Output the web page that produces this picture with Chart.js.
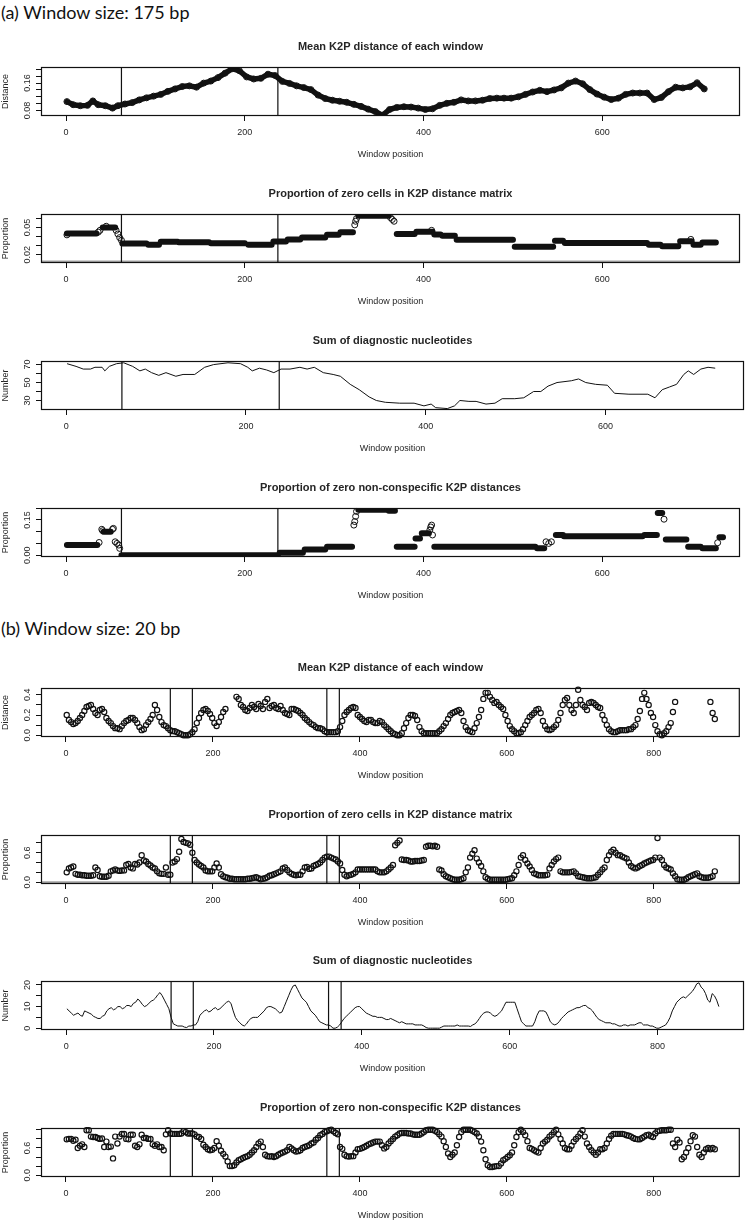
<!DOCTYPE html>
<html lang="en">
<head>
<meta charset="utf-8">
<title>Sliding window K2P plots</title>
<script src="https://cdn.jsdelivr.net/npm/chart.js@4.4.1/dist/chart.umd.min.js"></script>
<style>
  html, body { margin: 0; padding: 0; background: #fff; }
  body { position: relative; width: 745px; height: 1221px; overflow: hidden; }
  .heading { position: absolute; left: 1px; font-family: Lato, "Open Sans", sans-serif; font-size: 18px;
             line-height: 22px; color: #111; white-space: nowrap; }
  .panel { position: absolute; left: 0; width: 745px; height: 134px; }
</style>
</head>
<body>
<div class="heading" style="top:1px">(a) Window size: 175 bp</div>
<div class="heading" style="top:617px">(b) Window size: 20 bp</div>
<script>
const FONT = '"Liberation Sans", Arial, Helvetica, sans-serif';
const INK = '#111';
const TEXT = '#262626';

// ---- shared axis settings ----
const XLIM_A = [-28, 754];
const XLIM_B = [-34, 917];
const X_TICKS_A = [0, 200, 400, 600];
const X_TICKS_B = [0, 200, 400, 600, 800];
const WINDOWS_A = [[62, 237]];
const WINDOWS_B = [[142, 172], [355, 372]];

// ---- (a) 175 bp: mean K2P distance ----
const k2pPosA = [1, 8, 16, 24, 30, 36, 44, 52, 58, 66, 74, 82, 90, 98, 106, 114, 122, 130, 138, 146,
  154, 162, 170, 178, 186, 194, 202, 210, 218, 226, 234, 242, 250, 258, 266, 274, 282, 290, 298, 306,
  314, 322, 330, 338, 346, 354, 362, 370, 378, 386, 394, 402, 410, 418, 426, 434, 442, 450, 458, 466,
  474, 482, 490, 498, 506, 514, 522, 530, 538, 546, 554, 562, 570, 578, 586, 594, 602, 610, 618, 626,
  634, 642, 650, 658, 666, 674, 682, 690, 698, 706, 714];
const k2pDistA = [0.106, 0.097, 0.094, 0.095, 0.108, 0.097, 0.094, 0.087, 0.094, 0.099,
  0.103, 0.111, 0.117, 0.122, 0.127, 0.136, 0.143, 0.150, 0.152, 0.148,
  0.160, 0.166, 0.176, 0.189, 0.202, 0.196, 0.178, 0.172, 0.174, 0.186,
  0.182, 0.165, 0.159, 0.152, 0.147, 0.141, 0.125, 0.115, 0.110, 0.107,
  0.104, 0.098, 0.092, 0.084, 0.077, 0.066, 0.083, 0.089, 0.091, 0.090,
  0.087, 0.083, 0.085, 0.095, 0.101, 0.104, 0.111, 0.108, 0.108, 0.110,
  0.115, 0.116, 0.116, 0.116, 0.120, 0.127, 0.134, 0.139, 0.135, 0.140,
  0.146, 0.160, 0.166, 0.158, 0.141, 0.128, 0.119, 0.112, 0.116, 0.127,
  0.131, 0.131, 0.131, 0.112, 0.118, 0.135, 0.148, 0.146, 0.149, 0.161, 0.143];
const yTicksA1 = [0.08, 0.10, 0.12, 0.14, 0.16, 0.18, 0.20];
const yLabelsA1 = ['0.08', '0.16'];

// ---- (a) proportion of zero cells: plateaus + transition points ----
const zeroStartA = [1, 41, 63, 92, 106, 126, 162, 204, 232, 248, 264, 292, 307, 327, 370, 392, 412, 421, 437, 502, 547, 558, 652, 667, 687, 702, 712];
const zeroEndA = [34, 55, 90, 104, 125, 160, 200, 230, 246, 262, 290, 305, 321, 361, 390, 410, 419, 435, 500, 545, 556, 650, 665, 685, 700, 710, 727];
const zeroLevelA = [0.0435, 0.050, 0.0325, 0.031, 0.0345, 0.0338, 0.0327, 0.031, 0.0348, 0.037, 0.039, 0.042, 0.045, 0.063,
  0.043, 0.0455, 0.0425, 0.041, 0.0365, 0.029, 0.0355, 0.033, 0.031, 0.0295, 0.035, 0.031, 0.0335];
const zeroJumpXA = [1, 36, 38, 45, 56, 58, 60, 62, 323, 324, 325, 363, 365, 367, 409, 699];
const zeroJumpYA = [0.042, 0.045, 0.047, 0.0515, 0.047, 0.043, 0.039, 0.036, 0.053, 0.057, 0.060, 0.061, 0.059, 0.057, 0.047, 0.037];
const yTicksA2 = [0.02, 0.03, 0.04, 0.05, 0.06];
const yLabelsA2 = ['0.02', '0.05'];

// ---- (a) sum of diagnostic nucleotides ----
const diagPosA = [1, 11, 19, 27, 32, 40, 43, 48, 56, 64, 74, 82, 88, 95, 103, 111, 122, 130, 143, 154,
  164, 180, 194, 202, 207, 215, 223, 231, 239, 249, 260, 268, 276, 286, 297, 305, 316, 326, 337, 345,
  355, 371, 387, 398, 406, 411, 424, 432, 438, 448, 456, 467, 477, 485, 499, 509, 520, 528, 536, 546,
  562, 570, 578, 589, 602, 610, 626, 647, 655, 663, 671, 679, 687, 692, 698, 706, 714, 722];
const diagSumA = [71, 68, 65, 65, 67, 67, 63, 68, 71, 72, 68, 63, 65, 61, 58, 61, 57, 59, 59, 67,
  70, 72, 71, 67, 63, 66, 64, 61, 65, 65, 67, 65, 67, 61, 59, 57, 48, 42, 34, 30,
  28, 27, 27, 24, 26, 22, 21, 24, 30, 29, 29, 26, 27, 32, 32, 33, 40, 40, 46, 50,
  52, 54, 50, 48, 47, 38, 37, 37, 33, 42, 45, 48, 59, 63, 59, 65, 67, 66];
const yTicksA3 = [30, 40, 50, 60, 70];
const yLabelsA3 = ['30', '50', '70'];

// ---- (a) proportion of zero non-conspecific distances ----
const nonconStartA = [1, 42, 62, 239, 267, 292, 327, 361, 370, 391, 398, 412, 527, 548, 557, 647, 662, 671, 696, 712, 731];
const nonconEndA = [35, 50, 237, 265, 290, 320, 360, 368, 390, 396, 406, 525, 535, 556, 645, 661, 667, 694, 710, 727, 735];
const nonconLevelA = [0.043, 0.100, 0.0, 0.010, 0.024, 0.036, 0.193, 0.189, 0.036, 0.071, 0.093, 0.036, 0.029, 0.086, 0.081, 0.086, 0.179, 0.067, 0.036, 0.029, 0.076];
const nonconJumpXA = [37, 40, 41, 52, 53, 55, 57, 59, 60, 322, 323, 324, 325, 407, 408, 409, 410, 537, 540, 543, 669, 729];
const nonconJumpYA = [0.054, 0.110, 0.104, 0.110, 0.114, 0.057, 0.050, 0.043, 0.029, 0.128, 0.143, 0.165, 0.186, 0.107, 0.120, 0.128, 0.086, 0.057, 0.050, 0.057, 0.153, 0.053];
const yTicksA4 = [0, 0.05, 0.10, 0.15, 0.20];
const yLabelsA4 = ['0.00', '0.15'];

// ---- (b) 20 bp: two interleaved sets of sampled window positions ----
const posB = [1, 7, 13, 19, 25, 31, 37, 43, 49, 55,
  61, 67, 73, 79, 85, 91, 97, 103, 109, 115,
  121, 127, 133, 139, 145, 151, 157, 163, 169, 175,
  181, 187, 193, 199, 205, 211, 217, 223, 229, 235,
  241, 247, 253, 259, 265, 271, 277, 283, 289, 295,
  301, 307, 313, 319, 325, 331, 337, 343, 349, 355,
  361, 367, 373, 379, 385, 391, 397, 403, 409, 415,
  421, 427, 433, 439, 445, 451, 457, 463, 469, 475,
  481, 487, 493, 499, 505, 511, 517, 523, 529, 535,
  541, 547, 553, 559, 565, 571, 577, 583, 589, 595,
  601, 607, 613, 619, 625, 631, 637, 643, 649, 655,
  661, 667, 673, 679, 685, 691, 697, 703, 709, 715,
  721, 727, 733, 739, 745, 751, 757, 763, 769, 775,
  781, 787, 793, 799, 805, 811, 817, 823, 829, 835,
  841, 847, 853, 859, 865, 871, 877, 883];
const posB2 = [4, 10, 16, 22, 28, 34, 40, 46, 52, 58,
  64, 70, 76, 82, 88, 94, 100, 106, 112, 118,
  124, 130, 136, 142, 148, 154, 160, 166, 172, 178,
  184, 190, 196, 202, 208, 214, 220, 226, 232, 238,
  244, 250, 256, 262, 268, 274, 280, 286, 292, 298,
  304, 310, 316, 322, 328, 334, 340, 346, 352, 358,
  364, 370, 376, 382, 388, 394, 400, 406, 412, 418,
  424, 430, 436, 442, 448, 454, 460, 466, 472, 478,
  484, 490, 496, 502, 508, 514, 520, 526, 532, 538,
  544, 550, 556, 562, 568, 574, 580, 586, 592, 598,
  604, 610, 616, 622, 628, 634, 640, 646, 652, 658,
  664, 670, 676, 682, 688, 694, 700, 706, 712, 718,
  724, 730, 736, 742, 748, 754, 760, 766, 772, 778,
  784, 790, 796, 802, 808, 814, 820, 826, 832, 838,
  844, 850, 856, 862, 868, 874, 880];

const k2pDistB = [0.20, 0.13, 0.12, 0.17, 0.24, 0.29, 0.26, 0.20, 0.26, 0.17,
  0.12, 0.07, 0.06, 0.12, 0.15, 0.17, 0.12, 0.05, 0.10, 0.16,
  0.30, 0.18, 0.10, 0.07, 0.04, 0.03, 0.01, 0.00, 0.01, 0.06,
  0.17, 0.25, 0.24, 0.17, 0.09, 0.18, 0.26, null, null, 0.36,
  0.28, 0.24, 0.30, 0.26, 0.29, 0.33, 0.27, 0.30, 0.26, 0.25,
  0.21, 0.26, 0.25, 0.22, 0.17, 0.13, 0.10, 0.07, 0.06, 0.03,
  0.03, 0.03, 0.08, 0.20, 0.25, 0.28, 0.20, 0.16, 0.13, 0.15,
  0.12, 0.14, 0.10, 0.06, 0.02, 0.00, 0.02, 0.12, 0.20, 0.19,
  0.08, 0.02, 0.02, 0.02, 0.02, 0.06, 0.12, 0.20, 0.23, 0.25,
  0.14, 0.05, 0.03, 0.12, 0.25, 0.42, 0.38, 0.32, 0.30, 0.26,
  0.14, 0.06, 0.02, 0.03, 0.10, 0.18, 0.22, 0.26, 0.14, 0.06,
  0.06, 0.10, 0.22, 0.35, 0.30, 0.22, 0.45, 0.30, 0.25, 0.33,
  0.30, 0.27, 0.15, 0.06, 0.03, 0.04, 0.05, 0.05, 0.06, 0.10,
  0.24, 0.42, 0.30, 0.18, 0.04, 0.00, 0.04, 0.12, 0.33, null,
  null, null, null, null, null, null, 0.33, 0.16];
const k2pDistB2 = [0.15, 0.11, 0.14, 0.20, 0.28, 0.30, 0.22, 0.25, 0.23, 0.14,
  0.09, 0.07, 0.09, 0.14, 0.17, 0.15, 0.08, 0.06, 0.13, 0.20,
  0.25, 0.13, 0.09, 0.05, 0.04, 0.02, 0.00, 0.00, 0.03, 0.12,
  0.22, 0.26, 0.21, 0.12, 0.13, 0.23, null, null, 0.38, 0.30,
  0.25, 0.27, 0.28, 0.31, 0.26, 0.36, 0.29, 0.27, 0.29, 0.22,
  0.20, 0.26, 0.24, 0.20, 0.15, 0.11, 0.08, 0.07, 0.04, 0.03,
  0.03, 0.04, 0.14, 0.23, 0.27, 0.27, 0.18, 0.14, 0.15, 0.13,
  0.12, 0.13, 0.08, 0.04, 0.01, 0.00, 0.07, 0.17, 0.20, 0.15,
  0.04, 0.02, 0.02, 0.02, 0.04, 0.09, 0.16, 0.22, 0.24, 0.22,
  0.08, 0.04, 0.07, 0.18, 0.36, 0.42, 0.35, 0.33, 0.28, 0.20,
  0.09, 0.04, 0.02, 0.06, 0.14, 0.20, 0.25, 0.22, 0.09, 0.05,
  0.08, 0.15, 0.30, 0.37, 0.25, 0.30, 0.35, 0.28, 0.32, 0.32,
  0.28, 0.20, 0.10, 0.04, 0.03, 0.05, 0.05, 0.06, 0.08, 0.16,
  0.36, 0.36, 0.22, 0.10, 0.01, 0.02, 0.08, 0.23, null, null,
  null, null, null, null, null, null, 0.22];
const yTicksB1 = [0, 0.1, 0.2, 0.3, 0.4];
const yLabelsB1 = ['0.0', '0.2', '0.4'];

const zeroPropB = [0.20, 0.30, 0.17, 0.15, 0.14, 0.13, 0.14, 0.25, 0.11, 0.11,
  0.22, 0.26, 0.23, 0.24, 0.37, 0.28, 0.36, 0.55, 0.42, 0.34,
  0.28, 0.18, 0.17, 0.15, 0.40, 0.47, 0.88, 0.80, 0.76, 0.45,
  0.36, 0.30, 0.22, 0.22, 0.38, 0.16, 0.10, 0.07, 0.06, 0.06,
  0.06, 0.07, 0.08, 0.10, 0.06, 0.08, 0.13, 0.16, 0.20, 0.28,
  0.25, 0.17, 0.14, 0.15, 0.30, 0.27, 0.33, 0.37, 0.45, 0.52,
  0.50, 0.46, 0.38, 0.15, 0.14, 0.17, 0.26, 0.26, 0.26, 0.26,
  0.26, 0.20, 0.20, 0.26, 0.35, 0.80, 0.46, 0.45, 0.42, 0.43,
  0.43, 0.45, 0.74, 0.73, 0.72, 0.24, 0.12, 0.08, 0.05, 0.05,
  0.08, 0.30, 0.58, 0.48, 0.33, 0.10, 0.05, 0.05, 0.05, 0.05,
  0.06, 0.08, 0.22, 0.50, 0.45, 0.32, 0.18, 0.14, 0.14, 0.15,
  0.35, 0.47, 0.22, 0.20, 0.20, 0.22, 0.12, 0.10, 0.08, 0.08,
  0.10, 0.20, 0.30, 0.55, 0.66, 0.55, 0.52, 0.48, 0.33, 0.28,
  0.33, 0.38, 0.42, 0.45, 0.90, 0.45, 0.30, 0.26, 0.12, 0.05,
  0.05, 0.10, 0.14, 0.18, 0.10, 0.09, 0.10, 0.22];
const zeroPropB2 = [0.28, 0.32, 0.15, 0.14, 0.13, 0.13, 0.30, 0.12, 0.11, 0.13,
  0.24, 0.24, 0.24, 0.35, 0.30, 0.37, 0.40, 0.44, 0.37, 0.30,
  0.22, 0.17, 0.30, 0.15, 0.42, 0.62, 0.82, 0.79, 0.60, 0.40,
  0.33, 0.24, 0.22, 0.30, 0.30, 0.12, 0.09, 0.07, 0.06, 0.06,
  0.06, 0.07, 0.09, 0.08, 0.07, 0.10, 0.14, 0.18, 0.22, 0.30,
  0.20, 0.15, 0.15, 0.22, 0.31, 0.28, 0.35, 0.40, 0.50, 0.52,
  0.48, 0.42, 0.25, 0.12, 0.15, 0.20, 0.26, 0.26, 0.26, 0.26,
  0.22, 0.20, 0.22, 0.30, 0.75, 0.85, 0.45, 0.44, 0.42, 0.43,
  0.44, 0.72, 0.74, 0.74, 0.26, 0.16, 0.10, 0.06, 0.05, 0.06,
  0.20, 0.50, 0.65, 0.40, 0.22, 0.07, 0.05, 0.05, 0.05, 0.05,
  0.07, 0.14, 0.35, 0.55, 0.38, 0.25, 0.16, 0.14, 0.14, 0.28,
  0.42, 0.50, 0.20, 0.20, 0.21, 0.18, 0.11, 0.09, 0.08, 0.09,
  0.15, 0.26, 0.45, 0.62, 0.60, 0.55, 0.50, 0.40, 0.30, 0.30,
  0.35, 0.40, 0.44, 0.50, 0.50, 0.35, 0.28, 0.18, 0.06, 0.05,
  0.07, 0.12, 0.16, 0.12, 0.09, 0.09, 0.12];
const yTicksB2 = [0, 0.2, 0.4, 0.6, 0.8];
const yLabelsB2 = ['0.0', '0.6'];

const diagSumB = [9, 7, 6.5, 6, 8, 7, 5.5, 4.5, 5.5, 8,
  9.5, 9, 10, 9.5, 10.5, 11.5, 13.5, 11, 10.5, 12.5,
  14, 16.5, 13, 9, 2, 1, 1, 0.3, 1, 1.5,
  6, 8, 7.5, 9, 8.5, 10, 12, 11.5, 5, 2.5,
  1, 3.5, 5, 5, 7, 9.5, 10, 9, 7, 10,
  15, 19.5, 18, 14, 12, 8, 6, 3, 2, 1.5,
  0, 0.5, 3, 5.5, 7.5, 9.5, 10, 8, 6.5, 5.5,
  5, 5, 4, 4.5, 3.5, 2.5, 2.5, 2, 2, 1.5,
  1.5, 0.3, 0, 0, 0, 1, 1, 1, 1.5, 1,
  1, 0.8, 2, 4.5, 7, 7.5, 6, 6, 8, 12,
  12, 12, 6, 2, 1, 1, 6, 8, 7.5, 3,
  1.5, 3, 5.5, 7.5, 8.5, 9.5, 10, 10.5, 9, 6.5,
  4, 3, 2.5, 2, 1.5, 1, 1.5, 1.5, 1.5, 2.5,
  1.5, 1.5, 1, 0, 0.5, 1.5, 5, 10, 13, 14.5,
  15, 17, 20.5, 19, 16, 12, 15, 10];
const diagSumB2 = [8, 6, 7, 5.5, 7.5, 6.5, 5, 4.5, 6, 9,
  8.5, 10, 9, 10.5, 10, 12, 12.5, 10, 11.5, 13,
  15.5, 15, 11, 5, 1.5, 1, 0.5, 1, 1.5, 3,
  7, 8.5, 8, 9.5, 9, 11, 12.5, 8, 3.5, 1.5,
  2, 4.5, 5, 6, 8, 10, 9.5, 8, 7.5, 12.5,
  17.5, 20, 16, 13, 10, 7, 4.5, 2.5, 1.5, 1,
  0, 1.5, 4.5, 6.5, 8.5, 10, 9, 7, 6, 5.5,
  5, 4.5, 4, 4, 3, 3, 2, 2, 1.5, 1.5,
  1, 0, 0, 0, 0.5, 1, 1, 1, 1, 1,
  1, 1.5, 3, 6, 7.5, 7, 5.5, 7, 10, 12,
  12, 9, 3, 1, 1, 3, 8, 8, 5.5, 2,
  2, 4.5, 6.5, 8, 9, 9.5, 10.5, 9.5, 8, 5,
  3.5, 2.5, 2.5, 2, 1, 1.5, 1, 1.5, 2, 2.5,
  1.5, 1, 0.5, 0, 1, 3, 8, 12, 14, 14,
  16, 18.5, 21, 18, 13, 16, 13];
const yTicksB3 = [0, 5, 10, 15, 20];
const yLabelsB3 = ['0', '10', '20'];

const nonconPropB = [0.79, 0.80, 0.78, 0.65, 0.62, 0.99, 0.84, 0.82, 0.81, 0.74,
  0.63, 0.85, 0.85, 0.91, 0.79, 0.89, 0.62, 0.89, 0.82, 0.80,
  0.65, 0.62, 0.55, 0.99, 0.91, 0.91, 0.92, 0.95, 0.92, 0.90,
  0.84, 0.67, 0.57, 0.56, 0.75, 0.54, 0.41, 0.20, 0.22, 0.33,
  0.38, 0.42, 0.50, 0.62, 0.74, 0.45, 0.41, 0.40, 0.45, 0.50,
  0.55, 0.59, 0.52, 0.55, 0.62, 0.66, 0.72, 0.82, 0.91, 0.97,
  1.00, 0.93, 0.62, 0.45, 0.41, 0.42, 0.57, 0.60, 0.65, 0.70,
  0.74, 0.74, 0.59, 0.70, 0.80, 0.88, 0.93, 0.93, 0.92, 0.89,
  0.89, 0.95, 1.00, 1.00, 0.95, 0.85, 0.62, 0.40, 0.50, 0.84,
  1.00, 1.00, 0.98, 0.92, 0.74, 0.35, 0.18, 0.19, 0.20, 0.33,
  0.40, 0.50, 0.84, 1.00, 0.88, 0.60, 0.55, 0.50, 0.70, 0.78,
  0.89, 1.00, 0.80, 0.60, 0.57, 0.74, 0.85, 0.99, 0.70, 0.55,
  0.45, 0.57, 0.60, 0.80, 0.91, 0.91, 0.91, 0.88, 0.85, 0.80,
  0.79, 0.85, 0.89, 0.84, 0.97, 0.99, 0.99, 1.00, 0.62, 0.72,
  0.40, 0.60, 0.88, 0.62, 0.40, 0.57, 0.57, 0.57];
const nonconPropB2 = [0.80, 0.76, 0.60, 0.68, 0.99, 0.85, 0.84, 0.80, 0.62, 0.62,
  0.37, 0.70, 0.91, 0.80, 0.89, 0.65, 0.68, 0.82, 0.80, 0.68,
  0.68, 0.62, 0.90, 0.92, 0.91, 0.91, 0.97, 0.92, 0.92, 0.85,
  0.80, 0.62, 0.55, 0.60, 0.65, 0.47, 0.30, 0.20, 0.28, 0.35,
  0.40, 0.45, 0.55, 0.70, 0.62, 0.42, 0.42, 0.42, 0.48, 0.52,
  0.62, 0.55, 0.53, 0.60, 0.64, 0.70, 0.78, 0.88, 0.95, 0.99,
  0.97, 0.90, 0.58, 0.42, 0.42, 0.50, 0.58, 0.62, 0.68, 0.72,
  0.74, 0.66, 0.62, 0.75, 0.85, 0.92, 0.93, 0.92, 0.90, 0.89,
  0.92, 0.99, 1.00, 0.98, 0.90, 0.75, 0.48, 0.45, 0.66, 0.95,
  1.00, 1.00, 0.95, 0.85, 0.55, 0.22, 0.18, 0.20, 0.26, 0.36,
  0.44, 0.66, 0.95, 0.95, 0.75, 0.58, 0.52, 0.60, 0.74, 0.85,
  0.95, 0.90, 0.70, 0.57, 0.65, 0.80, 0.92, 0.85, 0.62, 0.50,
  0.50, 0.57, 0.70, 0.87, 0.91, 0.91, 0.90, 0.87, 0.82, 0.79,
  0.82, 0.88, 0.86, 0.92, 0.98, 0.99, 1.00, 0.70, 0.78, 0.35,
  0.50, 0.75, 0.85, 0.45, 0.50, 0.60, 0.60];
const yTicksB4 = [0, 0.2, 0.4, 0.6, 0.8, 1.0];
const yLabelsB4 = ['0.0', '0.6'];

// ---- dataset builders ----
function pairs(xs, ys) {
  return xs.map((x, i) => ({ x, y: ys[i] }));
}

function rings(points, r, lw) {
  return {
    data: points.filter(p => p.y !== null),
    showLine: false, pointRadius: r, pointBorderWidth: lw,
    pointBorderColor: INK, pointBackgroundColor: 'rgba(0,0,0,0)', clip: false
  };
}

// dense runs of overlapping circles look like a thick band
function band(xs, ys) {
  return {
    data: pairs(xs, ys), borderColor: INK, borderWidth: 5.5,
    borderJoinStyle: 'round', borderCapStyle: 'round',
    pointRadius: 3, pointBorderWidth: 1, pointBorderColor: INK,
    pointBackgroundColor: 'rgba(0,0,0,0)'
  };
}

function plateaus(starts, ends, levels) {
  const data = [];
  starts.forEach((s, i) => {
    data.push({ x: s, y: levels[i] }, { x: ends[i], y: levels[i] }, { x: ends[i], y: null });
  });
  return { data, borderColor: INK, borderWidth: 6, borderCapStyle: 'round', pointRadius: 0, spanGaps: false };
}

function trace(points) {
  return { data: points, borderColor: INK, borderWidth: 1, pointRadius: 0 };
}

function merged(xs1, ys1, xs2, ys2) {
  return pairs(xs1, ys1).concat(pairs(xs2, ys2)).sort((p, q) => p.x - q.x);
}

function windowBoxes(spans, ylim) {
  const data = [];
  spans.forEach(([a, b]) => {
    data.push({ x: a, y: ylim[0] }, { x: a, y: ylim[1] }, { x: b, y: ylim[1] },
              { x: b, y: ylim[0] }, { x: a, y: ylim[0] }, { x: a, y: null });
  });
  return { data, borderColor: INK, borderWidth: 1.2, pointRadius: 0, spanGaps: false };
}

function refLine(y, xlim) {
  return { data: [{ x: xlim[0], y }, { x: xlim[1], y }], borderColor: '#a3a3a3', borderWidth: 2, pointRadius: 0 };
}

// ---- panels ----
const YLIM = {
  a1: [0.064, 0.207], a2: [0.011, 0.065], a3: [19.4, 74], a4: [-0.0077, 0.2007],
  b1: [-0.018, 0.468], b2: [-0.037, 0.96], b3: [-0.84, 21.84], b4: [-0.04, 1.04]
};

const panels = [
  { boxTop: 67, title: 'Mean K2P distance of each window', ylab: 'Distance',
    xlim: XLIM_A, xTicks: X_TICKS_A, ylim: YLIM.a1, yTicks: yTicksA1, yLabels: yLabelsA1,
    datasets: [band(k2pPosA, k2pDistA), windowBoxes(WINDOWS_A, YLIM.a1)] },
  { boxTop: 214, title: 'Proportion of zero cells in K2P distance matrix', ylab: 'Proportion',
    xlim: XLIM_A, xTicks: X_TICKS_A, ylim: YLIM.a2, yTicks: yTicksA2, yLabels: yLabelsA2,
    datasets: [plateaus(zeroStartA, zeroEndA, zeroLevelA), rings(pairs(zeroJumpXA, zeroJumpYA), 3, 1),
               windowBoxes(WINDOWS_A, YLIM.a2), refLine(0.0127, XLIM_A)] },
  { boxTop: 361, title: 'Sum of diagnostic nucleotides', ylab: 'Number',
    xlim: XLIM_A, xTicks: X_TICKS_A, ylim: YLIM.a3, yTicks: yTicksA3, yLabels: yLabelsA3,
    datasets: [trace(pairs(diagPosA, diagSumA)), windowBoxes(WINDOWS_A, YLIM.a3)] },
  { boxTop: 508, title: 'Proportion of zero non-conspecific K2P distances', ylab: 'Proportion',
    xlim: XLIM_A, xTicks: X_TICKS_A, ylim: YLIM.a4, yTicks: yTicksA4, yLabels: yLabelsA4,
    datasets: [plateaus(nonconStartA, nonconEndA, nonconLevelA), rings(pairs(nonconJumpXA, nonconJumpYA), 3, 1),
               windowBoxes(WINDOWS_A, YLIM.a4)] },
  { boxTop: 688, title: 'Mean K2P distance of each window', ylab: 'Distance',
    xlim: XLIM_B, xTicks: X_TICKS_B, ylim: YLIM.b1, yTicks: yTicksB1, yLabels: yLabelsB1,
    datasets: [rings(merged(posB, k2pDistB, posB2, k2pDistB2), 2.6, 1.2), windowBoxes(WINDOWS_B, YLIM.b1)] },
  { boxTop: 835, title: 'Proportion of zero cells in K2P distance matrix', ylab: 'Proportion',
    xlim: XLIM_B, xTicks: X_TICKS_B, ylim: YLIM.b2, yTicks: yTicksB2, yLabels: yLabelsB2,
    datasets: [rings(merged(posB, zeroPropB, posB2, zeroPropB2), 2.6, 1.2), windowBoxes(WINDOWS_B, YLIM.b2),
               refLine(0, XLIM_B)] },
  { boxTop: 981, title: 'Sum of diagnostic nucleotides', ylab: 'Number',
    xlim: XLIM_B, xTicks: X_TICKS_B, ylim: YLIM.b3, yTicks: yTicksB3, yLabels: yLabelsB3,
    datasets: [trace(merged(posB, diagSumB, posB2, diagSumB2)), windowBoxes(WINDOWS_B, YLIM.b3)] },
  { boxTop: 1128, title: 'Proportion of zero non-conspecific K2P distances', ylab: 'Proportion',
    xlim: XLIM_B, xTicks: X_TICKS_B, ylim: YLIM.b4, yTicks: yTicksB4, yLabels: yLabelsB4,
    datasets: [rings(merged(posB, nonconPropB, posB2, nonconPropB2), 2.6, 1.2), windowBoxes(WINDOWS_B, YLIM.b4)] }
];

// box, main title and R-style (axis-parallel) y labels
function rFrame(panel) {
  return {
    id: 'rFrame',
    afterDraw(chart) {
      const { ctx, chartArea: a } = chart;
      const y = chart.scales.y;
      ctx.save();
      ctx.strokeStyle = INK;
      ctx.lineWidth = 1.2;
      ctx.strokeRect(a.left + 0.5, a.top + 0.5, a.right - a.left - 1, a.bottom - a.top - 1);
      ctx.fillStyle = TEXT;
      ctx.textAlign = 'center';
      ctx.textBaseline = 'middle';
      ctx.font = 'bold 11px ' + FONT;
      ctx.fillText(panel.title, (a.left + a.right) / 2, a.top - 20);
      ctx.font = '9px ' + FONT;
      panel.yLabels.forEach(label => {
        ctx.save();
        ctx.translate(a.left - 13, y.getPixelForValue(Number(label)));
        ctx.rotate(-Math.PI / 2);
        ctx.fillText(label, 0, 0);
        ctx.restore();
      });
      ctx.restore();
    }
  };
}

Chart.defaults.font.family = FONT;
Chart.defaults.color = TEXT;

function drawPanel(panel) {
  const holder = document.createElement('div');
  holder.className = 'panel';
  holder.style.top = (panel.boxTop - 40) + 'px';
  const canvas = document.createElement('canvas');
  holder.appendChild(canvas);
  document.body.appendChild(holder);

  const tickMarks = { drawOnChartArea: false, drawTicks: true, tickLength: 5, color: INK, lineWidth: 1 };

  new Chart(canvas, {
    type: 'line',
    data: { datasets: panel.datasets },
    options: {
      responsive: true,
      maintainAspectRatio: false,
      animation: false,
      events: [],
      layout: { padding: { top: 40, right: 1, bottom: 0, left: 0 } },
      plugins: { legend: { display: false }, tooltip: { enabled: false } },
      scales: {
        x: {
          type: 'linear', min: panel.xlim[0], max: panel.xlim[1],
          afterBuildTicks: s => { s.ticks = panel.xTicks.map(v => ({ value: v })); },
          afterFit: s => { s.height = 45; },
          grid: tickMarks,
          border: { display: false },
          ticks: { font: { size: 9 }, color: TEXT, padding: 6, maxRotation: 0, autoSkip: false },
          title: { display: true, text: 'Window position', font: { size: 9 }, color: TEXT,
                   padding: { top: 0, bottom: 1 } }
        },
        y: {
          type: 'linear', min: panel.ylim[0], max: panel.ylim[1],
          afterBuildTicks: s => { s.ticks = panel.yTicks.map(v => ({ value: v })); },
          afterFit: s => { s.width = 41; },
          grid: tickMarks,
          border: { display: false },
          ticks: { display: false },
          title: { display: true, text: panel.ylab, font: { size: 9 }, color: TEXT, padding: 0 }
        }
      }
    },
    plugins: [rFrame(panel)]
  });
}

panels.forEach(drawPanel);
</script>
</body>
</html>
